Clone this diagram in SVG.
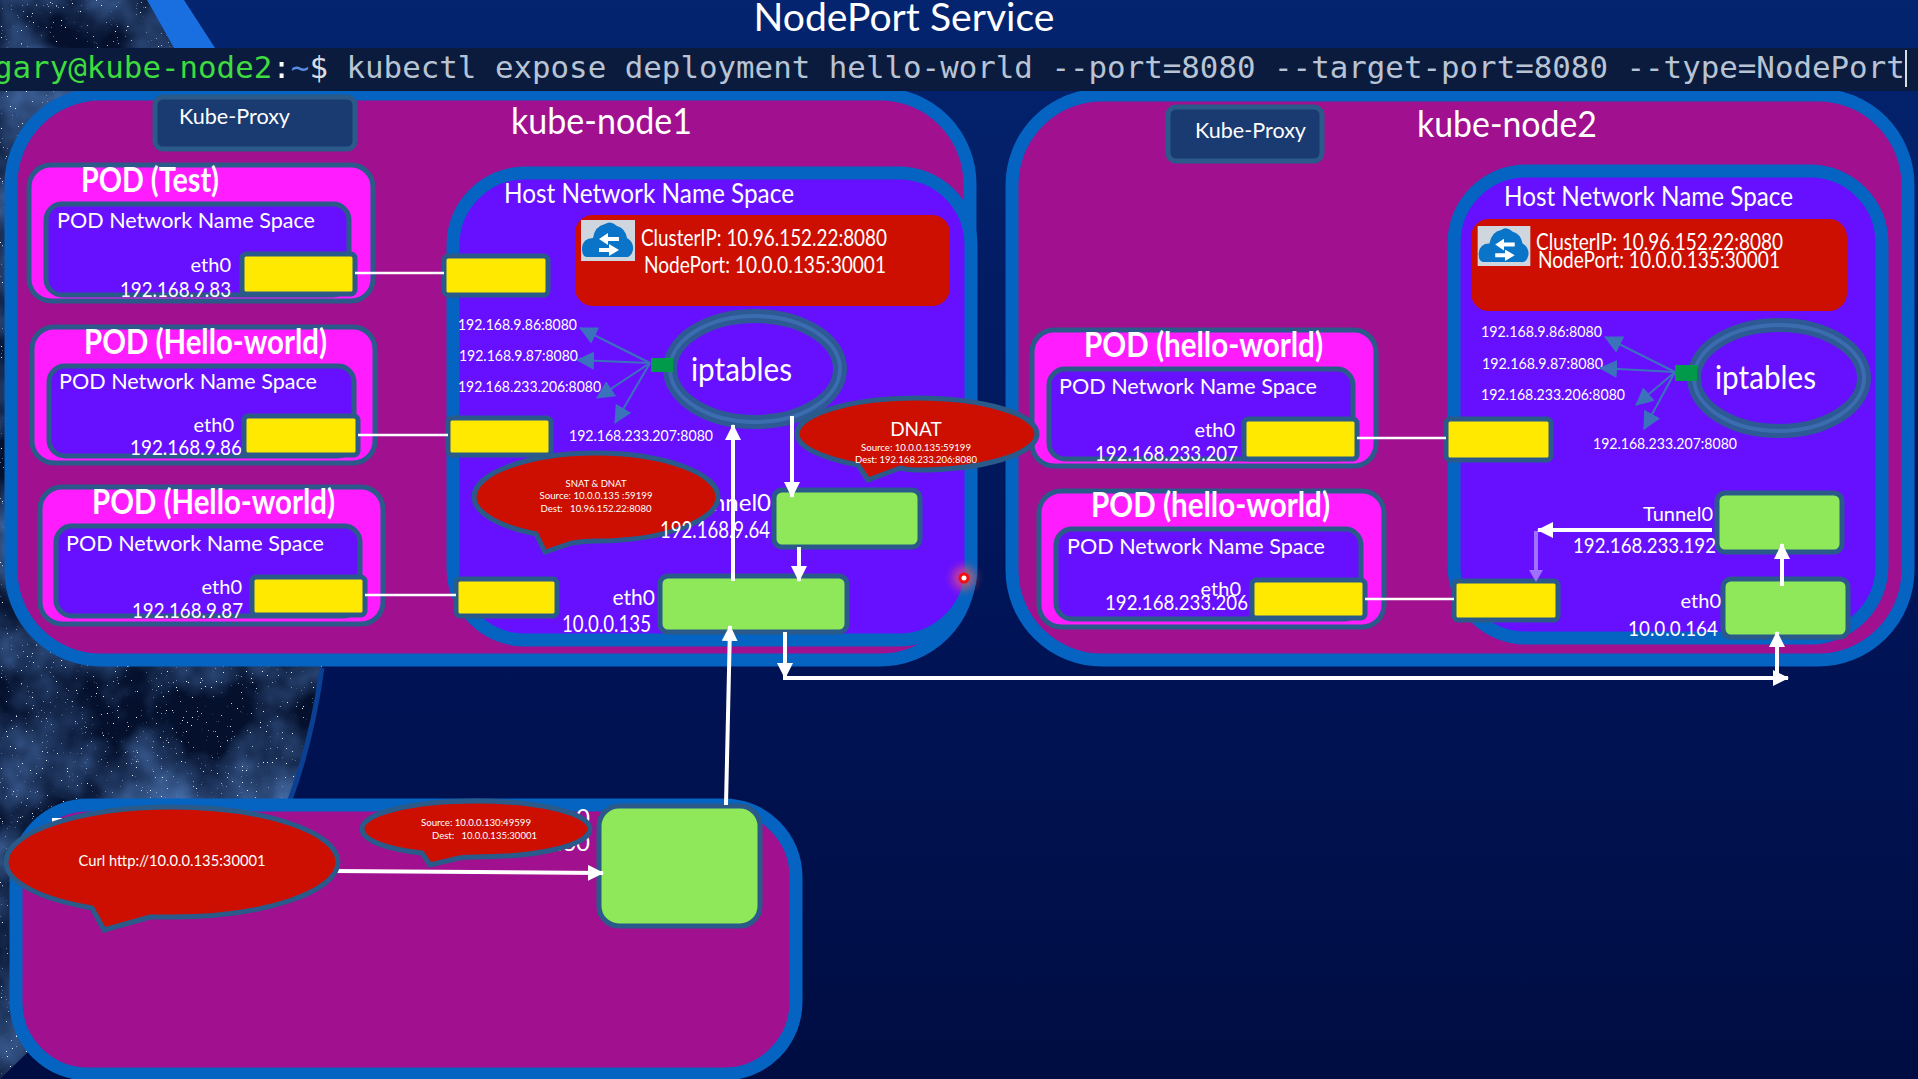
<svg xmlns="http://www.w3.org/2000/svg" width="1918" height="1079" viewBox="0 0 1918 1079">
<style>
text{font-family:Lato,"Liberation Sans",sans-serif;fill:#fff;white-space:pre}
.node{fill:#a0108f;stroke:#0563c1;stroke-width:13}
.host{fill:#6610ff;stroke:#0563c1;stroke-width:13}
.pod{fill:#ff1dff;stroke:#2a5a8a;stroke-width:5}
.ns{fill:#6610ff;stroke:#2a5a8a;stroke-width:5}
.y{fill:#ffe900;stroke:#2a5a8a;stroke-width:5}
.g{fill:#8fe85a;stroke:#2a5a8a;stroke-width:5}
.proxy{fill:#1a3a72;stroke:#2a5a8a;stroke-width:5}
.svc{fill:#cc0f00}
.bub{fill:#cc0f00;stroke:#2a5a8a;stroke-width:5;stroke-linejoin:miter}
.t{font-size:22px}.e{font-size:20px}.title{font-size:34px;font-weight:700}.sm{font-size:15px}.mini{font-size:10px}
.head{font-size:37px}.hn{font-size:27px}.lab{font-size:24px}.lab2{font-size:21px}.svt{font-size:23px}
.w{stroke:#fff;fill:none;stroke-width:4}
.b{stroke:#3a72bc;fill:none;stroke-width:2;marker-end:url(#ab)}
.wa{marker-end:url(#aw)}
.ring{fill:#6610ff;stroke:#2d5a94;stroke-width:14}
.ring2{fill:none;stroke:#3c6cb0;stroke-width:4}
.port{fill:#009a4a}
</style>
<defs>
<linearGradient id="bg" x1="0" y1="0" x2="0" y2="1"><stop offset="0" stop-color="#04246f"/><stop offset=".55" stop-color="#001458"/><stop offset="1" stop-color="#000d42"/></linearGradient>
<filter id="stars" x="0" y="0" width="1" height="1"><feTurbulence type="fractalNoise" baseFrequency=".8" numOctaves="2" seed="7"/><feColorMatrix values="0 0 0 0 .85 0 0 0 0 .92 0 0 0 0 1 14 0 0 0 -10.3"/></filter>
<filter id="neb" x="0" y="0" width="1" height="1"><feTurbulence type="fractalNoise" baseFrequency=".012" numOctaves="4" seed="3"/><feColorMatrix values="0 0 0 0 .08 0 0 0 0 .2 0 0 0 0 .5 1.8 0 0 0 -.6"/></filter>
<filter id="glow" x="-100%" y="-100%" width="300%" height="300%"><feGaussianBlur stdDeviation="4"/></filter>
<clipPath id="space"><path d="M0 0H147L174 48L300 300L322 668Q312 740 290 800L0 1079Z"/></clipPath>
<marker id="aw" markerUnits="userSpaceOnUse" markerWidth="18" markerHeight="18" refX="15" refY="8" orient="auto"><path d="M0 0L16 8L0 16Z" fill="#fff"/></marker>
<marker id="ab" markerUnits="userSpaceOnUse" markerWidth="20" markerHeight="20" refX="17" refY="9" orient="auto"><path d="M0 0L18 9L0 18Z" fill="#3a72bc"/></marker>
<symbol id="icon" viewBox="0 0 54 41"><rect width="54" height="41" fill="#cfd6de"/><path d="M6 37Q1 37 1 28Q2 18 12 18Q14 6 24 4Q30 0 36 6Q44 8 46 18Q53 22 52 30Q50 38 44 37Z" fill="#0a74c8"/><path d="M27 13L18 19L27 25V21H38V17H27ZM28 24V28H18V32H28V36L38 30Z" fill="#fff"/></symbol>
</defs>

<g id="background">
<rect width="1918" height="1079" fill="url(#bg)"/>
<g clip-path="url(#space)"><rect width="340" height="1079" fill="#04102c"/><rect width="340" height="1079" filter="url(#neb)"/><rect width="340" height="1079" filter="url(#stars)"/></g>
<path d="M147 0H184L215 48H174Z" fill="#1a6fe0"/>
<path d="M322 668Q312 740 290 800" fill="none" stroke="#0a3f92" stroke-width="5"/>
</g>

<g id="title"><text x="904" y="31" text-anchor="middle" font-size="39" textLength="301" lengthAdjust="spacingAndGlyphs">NodePort Service</text></g>

<g id="kube-node1">
<rect class="node" x="11" y="94" width="959" height="566" rx="90"/>
<text class="head" x="511" y="134" textLength="181" lengthAdjust="spacingAndGlyphs">kube-node1</text>
<g id="kube-proxy1"><rect class="proxy" x="155" y="97" width="200" height="52" rx="8"/><text class="t" x="179" y="124" textLength="111" lengthAdjust="spacingAndGlyphs">Kube-Proxy</text></g>
</g>
<g id="host1">
<rect class="host" x="453" y="173" width="518" height="467" rx="72"/>
<text class="hn" x="504" y="203" textLength="290" lengthAdjust="spacingAndGlyphs">Host Network Name Space</text>
<g id="service1"><rect class="svc" x="575" y="215" width="375" height="91" rx="18"/><use href="#icon" x="581" y="220" width="54" height="41"/>
<text class="svt" x="641" y="246" textLength="246" lengthAdjust="spacingAndGlyphs">ClusterIP: 10.96.152.22:8080</text>
<text class="svt" x="644" y="273" textLength="242" lengthAdjust="spacingAndGlyphs">NodePort: 10.0.0.135:30001</text></g>
<g id="iptables1"><ellipse class="ring" cx="755" cy="369" rx="85" ry="53"/><ellipse class="ring2" cx="755" cy="369" rx="85" ry="53"/><rect class="port" x="651" y="358" width="22" height="14"/><text x="691" y="381" font-size="33" textLength="101" lengthAdjust="spacingAndGlyphs">iptables</text></g>
<text class="sm" x="458" y="330" textLength="119" lengthAdjust="spacingAndGlyphs">192.168.9.86:8080</text>
<text class="sm" x="459" y="361" textLength="119" lengthAdjust="spacingAndGlyphs">192.168.9.87:8080</text>
<text class="sm" x="458" y="392" textLength="143" lengthAdjust="spacingAndGlyphs">192.168.233.206:8080</text>
<text class="sm" x="569" y="441" textLength="144" lengthAdjust="spacingAndGlyphs">192.168.233.207:8080</text>
<text class="lab" x="771" y="511" text-anchor="end" font-size="21">Tunnel0</text>
<g id="tunnel1"><rect class="g" x="774" y="490" width="146" height="57" rx="8"/></g>
<g id="eth1"><rect class="g" x="660" y="576" width="187" height="56" rx="8"/></g>
<text class="lab2" x="655" y="605" text-anchor="end">eth0</text>
<text class="lab" x="562" y="632" textLength="89" lengthAdjust="spacingAndGlyphs">10.0.0.135</text>
<rect class="y" x="444" y="256" width="104" height="39" rx="4"/>
<rect class="y" x="448" y="418" width="103" height="37" rx="4"/>
<rect class="y" x="456" y="579" width="101" height="37" rx="4"/>
</g>

<g id="pod-test">
<rect class="pod" x="29" y="165" width="344" height="136" rx="22"/>
<text class="title" x="81" y="192" textLength="138" lengthAdjust="spacingAndGlyphs">POD (Test)</text>
<rect class="ns" x="46" y="204" width="303" height="91" rx="16"/>
<text class="t" x="57" y="228" textLength="258" lengthAdjust="spacingAndGlyphs">POD Network Name Space</text>
<text class="e" x="231" y="272" text-anchor="end">eth0</text>
<text class="t" x="120" y="297" textLength="111" lengthAdjust="spacingAndGlyphs">192.168.9.83</text>
<rect class="y" x="242" y="254" width="113" height="40" rx="4"/>
</g>
<g id="pod-hello-1">
<rect class="pod" x="32" y="327" width="343" height="136" rx="22"/>
<text class="title" x="84" y="354" textLength="243" lengthAdjust="spacingAndGlyphs">POD (Hello-world)</text>
<rect class="ns" x="49" y="366" width="305" height="90" rx="16"/>
<text class="t" x="59" y="389" textLength="258" lengthAdjust="spacingAndGlyphs">POD Network Name Space</text>
<text class="e" x="234" y="432" text-anchor="end">eth0</text>
<text class="t" x="130" y="455" textLength="112" lengthAdjust="spacingAndGlyphs">192.168.9.86</text>
<rect class="y" x="244" y="416" width="114" height="39" rx="4"/>
</g>
<g id="pod-hello-2">
<rect class="pod" x="40" y="487" width="343" height="137" rx="22"/>
<text class="title" x="92" y="514" textLength="243" lengthAdjust="spacingAndGlyphs">POD (Hello-world)</text>
<rect class="ns" x="56" y="526" width="304" height="90" rx="16"/>
<text class="t" x="66" y="551" textLength="258" lengthAdjust="spacingAndGlyphs">POD Network Name Space</text>
<text class="e" x="242" y="594" text-anchor="end">eth0</text>
<text class="t" x="132" y="618" textLength="111" lengthAdjust="spacingAndGlyphs">192.168.9.87</text>
<rect class="y" x="252" y="577" width="113" height="38" rx="4"/>
</g>

<g id="kube-node2">
<rect class="node" x="1012" y="95" width="896" height="565" rx="90"/>
<text class="head" x="1417" y="137" textLength="180" lengthAdjust="spacingAndGlyphs">kube-node2</text>
<g id="kube-proxy2"><rect class="proxy" x="1168" y="107" width="154" height="54" rx="8"/><text class="t" x="1195" y="138" textLength="111" lengthAdjust="spacingAndGlyphs">Kube-Proxy</text></g>
</g>
<g id="host2">
<rect class="host" x="1454" y="171" width="428" height="467" rx="72"/>
<text class="hn" x="1504" y="206" textLength="289" lengthAdjust="spacingAndGlyphs">Host Network Name Space</text>
<g id="service2"><rect class="svc" x="1471" y="219" width="376" height="92" rx="18"/><use href="#icon" x="1477" y="226" width="54" height="40"/>
<text class="svt" x="1536" y="250" textLength="247" lengthAdjust="spacingAndGlyphs">ClusterIP: 10.96.152.22:8080</text>
<text class="svt" x="1538" y="268" textLength="242" lengthAdjust="spacingAndGlyphs">NodePort: 10.0.0.135:30001</text></g>
<g id="iptables2"><ellipse class="ring" cx="1779" cy="378" rx="85" ry="53"/><ellipse class="ring2" cx="1779" cy="378" rx="85" ry="53"/><rect class="port" x="1675" y="365" width="22" height="16"/><text x="1715" y="389" font-size="33" textLength="101" lengthAdjust="spacingAndGlyphs">iptables</text></g>
<text class="sm" x="1481" y="337" textLength="121" lengthAdjust="spacingAndGlyphs">192.168.9.86:8080</text>
<text class="sm" x="1482" y="369" textLength="121" lengthAdjust="spacingAndGlyphs">192.168.9.87:8080</text>
<text class="sm" x="1481" y="400" textLength="144" lengthAdjust="spacingAndGlyphs">192.168.233.206:8080</text>
<text class="sm" x="1593" y="449" textLength="144" lengthAdjust="spacingAndGlyphs">192.168.233.207:8080</text>
<g id="tunnel2"><rect class="g" x="1717" y="493" width="125" height="59" rx="8"/></g>
<text x="1713" y="521" text-anchor="end" font-size="20">Tunnel0</text>
<text class="lab2" x="1573" y="553" textLength="143" lengthAdjust="spacingAndGlyphs">192.168.233.192</text>
<g id="eth2"><rect class="g" x="1723" y="579" width="125" height="58" rx="8"/></g>
<text x="1721" y="608" text-anchor="end" font-size="20">eth0</text>
<text class="lab2" x="1628" y="636" textLength="90" lengthAdjust="spacingAndGlyphs">10.0.0.164</text>
<rect class="y" x="1446" y="419" width="105" height="41" rx="4"/>
<rect class="y" x="1454" y="581" width="104" height="39" rx="4"/>
</g>
<g id="pod-hello-3">
<rect class="pod" x="1032" y="330" width="344" height="136" rx="22"/>
<text class="title" x="1084" y="357" textLength="239" lengthAdjust="spacingAndGlyphs">POD (hello-world)</text>
<rect class="ns" x="1049" y="369" width="304" height="90" rx="16"/>
<text class="t" x="1059" y="394" textLength="258" lengthAdjust="spacingAndGlyphs">POD Network Name Space</text>
<text class="e" x="1235" y="437" text-anchor="end">eth0</text>
<text class="t" x="1095" y="461" textLength="143" lengthAdjust="spacingAndGlyphs">192.168.233.207</text>
<rect class="y" x="1244" y="419" width="113" height="40" rx="4"/>
</g>
<g id="pod-hello-4">
<rect class="pod" x="1039" y="491" width="345" height="136" rx="22"/>
<text class="title" x="1091" y="517" textLength="239" lengthAdjust="spacingAndGlyphs">POD (hello-world)</text>
<rect class="ns" x="1056" y="529" width="305" height="90" rx="16"/>
<text class="t" x="1067" y="554" textLength="258" lengthAdjust="spacingAndGlyphs">POD Network Name Space</text>
<text class="e" x="1241" y="596" text-anchor="end">eth0</text>
<text class="t" x="1105" y="610" textLength="143" lengthAdjust="spacingAndGlyphs">192.168.233.206</text>
<rect class="y" x="1252" y="580" width="113" height="38" rx="4"/>
</g>

<g id="terminal">
<rect y="48" width="1918" height="43" fill="#0b1b3e"/>
<text x="-6" y="78" style="font-family:'DejaVu Sans Mono',monospace;font-size:30.82px;fill:#b8c4d4"><tspan style="fill:#3fdc3f">gary@kube-node2</tspan><tspan style="fill:#fff">:</tspan><tspan style="fill:#5a8ce0">~</tspan><tspan style="fill:#d8dde4">$</tspan> kubectl expose deployment hello-world --port=8080 --target-port=8080 --type=NodePort</text>
<rect x="1905" y="50" width="2" height="37" fill="#d8dde4"/>
</g>

<g id="client">
<rect class="node" x="16" y="805" width="780" height="269" rx="72"/>
<rect x="52" y="818" width="10" height="6" fill="#fff"/>
<text class="lab" x="590" y="826" text-anchor="end">eth0</text>
<text class="lab" x="590" y="851" text-anchor="end">10.0.0.130</text>
<g id="client-eth"><rect class="g" x="599" y="806" width="161" height="120" rx="20"/></g>
</g>

<g id="connectors">
<path class="w" style="stroke-width:2.5" d="M355 273H444M358 435H448M365 595H456M1357 438H1446M1365 599H1454"/>
<path class="b" d="M650 363L580 328"/><path class="b" d="M650 363L577 360"/><path class="b" d="M650 363L597 398"/><path class="b" d="M650 363L615 423"/>
<path class="b" d="M1675 372L1605 337"/><path class="b" d="M1675 372L1600 368"/><path class="b" d="M1675 372L1636 405"/><path class="b" d="M1675 372L1644 429"/>
<path class="w wa" d="M733 581V425"/>
<path class="w wa" d="M792 416V497"/>
<path class="w wa" d="M799 547V581"/>
<path class="w wa" d="M726 805L730 626"/>
<path class="w wa" d="M785 632V678"/>
<path class="w wa" d="M783 678H1788"/>
<path class="w wa" d="M1777 678V632"/>
<path class="w wa" d="M1782 586V544"/>
<path class="w wa" d="M1712 530H1538"/>
<path d="M1536 531V572" fill="none" stroke="#a070ff" stroke-width="4"/>
<path d="M1529 570H1543L1536 582Z" fill="#a070ff"/>
<path class="w wa" d="M334 871L603 873"/>
</g>

<g id="bubble-snat">
<path class="bub" d="M536 534C500 527 474 513 474 497C474 473 529 453 596 453C663 453 718 473 718 497C718 521 663 541 596 541Q584 541 572 543L545 552Z"/>
<text class="mini" x="596" y="487" text-anchor="middle" textLength="61" lengthAdjust="spacingAndGlyphs">SNAT &amp; DNAT</text>
<text class="mini" x="596" y="499" text-anchor="middle" textLength="113" lengthAdjust="spacingAndGlyphs">Source: 10.0.0.135 :59199</text>
<text class="mini" x="596" y="512" text-anchor="middle" textLength="111" lengthAdjust="spacingAndGlyphs">Dest:   10.96.152.22:8080</text>
<text class="lab" x="660" y="538" textLength="110" lengthAdjust="spacingAndGlyphs">192.168.9.64</text>
</g>
<g id="bubble-dnat">
<path class="bub" d="M858 465C822 458 797 447 797 434C797 414 851 398 917 398C983 398 1037 414 1037 434C1037 454 983 470 917 470Q908 470 900 468L868 480Z"/>
<text x="916" y="436" text-anchor="middle" font-size="19">DNAT</text>
<text class="mini" x="916" y="451" text-anchor="middle" textLength="110" lengthAdjust="spacingAndGlyphs">Source: 10.0.0.135:59199</text>
<text class="mini" x="916" y="463" text-anchor="middle" textLength="122" lengthAdjust="spacingAndGlyphs">Dest: 192.168.233.206:8080</text>
</g>
<g id="bubble-curl">
<path class="bub" d="M92 908C40 899 6 882 6 862C6 832 80 807 172 807C264 807 338 832 338 862C338 892 264 917 172 917Q160 917 150 917L104 930Z"/>
<text x="172" y="866" text-anchor="middle" font-size="15" textLength="187" lengthAdjust="spacingAndGlyphs">Curl http://10.0.0.135:30001</text>
</g>
<g id="bubble-source">
<path class="bub" d="M422 853C385 849 362 840 362 829C362 813 413 801 476 801C539 801 590 813 590 829C590 845 539 857 476 857Q466 857 459 858L430 865Z"/>
<text class="mini" x="421" y="826" textLength="110" lengthAdjust="spacingAndGlyphs">Source: 10.0.0.130:49599</text>
<text class="mini" x="432" y="839" textLength="105" lengthAdjust="spacingAndGlyphs">Dest:   10.0.0.135:30001</text>
</g>
<g id="pointer"><circle cx="964" cy="578" r="12" fill="#ff5a5a" opacity=".6" filter="url(#glow)"/><circle cx="964" cy="578" r="4" fill="#fff" stroke="#f01010" stroke-width="3"/></g>
</svg>
